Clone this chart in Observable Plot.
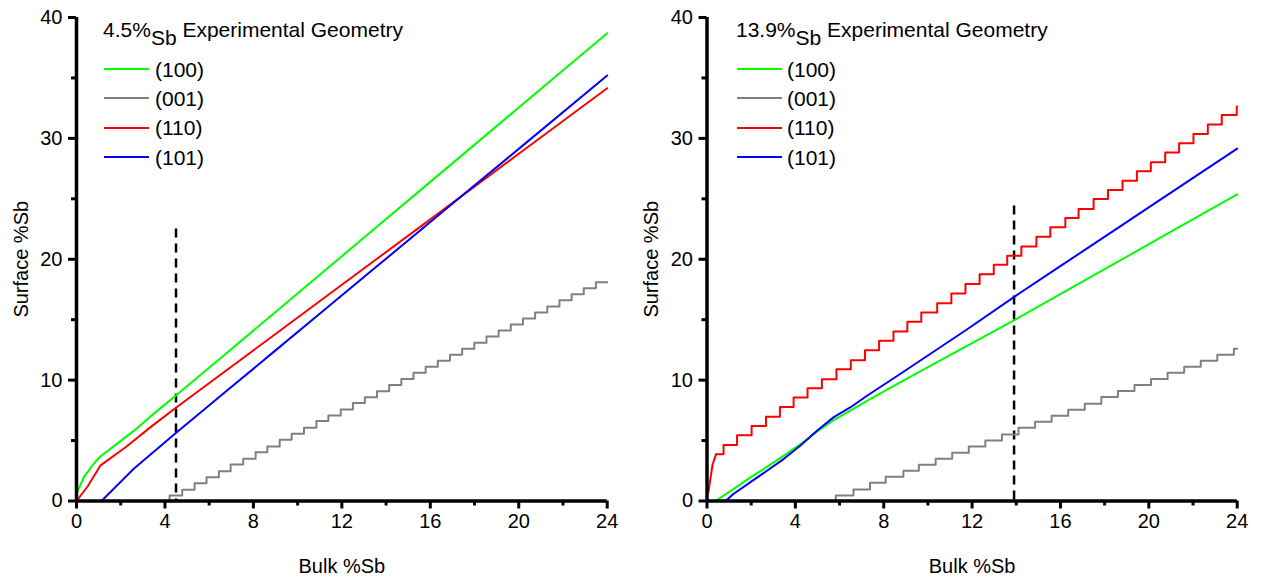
<!DOCTYPE html>
<html><head><meta charset="utf-8">
<script src="https://cdn.jsdelivr.net/npm/d3@7"></script>
<script src="https://cdn.jsdelivr.net/npm/@observablehq/plot@0.6"></script>
<style>
html,body{margin:0;padding:0;background:#fff;}
#wrap{position:relative;width:1261px;height:580px;overflow:hidden;font-family:'Liberation Sans',Arial,sans-serif;}
.panel{position:absolute;top:0;height:580px;}
.leg{position:absolute;font-size:21px;line-height:1;color:#000;white-space:nowrap;}
.leg sub{font-size:inherit;vertical-align:-8px;line-height:0;}
.sw{position:absolute;height:2px;}
</style></head><body><div id="wrap"></div>
<script>
// ---------- shared ----------
const seriesNames = ["(100)", "(001)", "(110)", "(101)"];
const seriesColors = ["#00ff00", "#808080", "#ff0000", "#0000ff"];
const xTicks = [0, 4, 8, 12, 16, 20, 24];
const xMinorTicks = [2, 6, 10, 14, 18, 22];
const yTicks = [0, 10, 20, 30, 40];
const yMinorTicks = [5, 15, 25, 35];
const xLabel = "Bulk %Sb";
const yLabel = "Surface %Sb";

// ---------- left panel: 4.5 %Sb ----------
const leftTitle = "4.5%";
const leftDashX = 4.5, leftDashTop = 22.5;
const L100x = [0, 0.33, 0.78, 1.09, 1.84, 2.59, 3.35, 4.48, 6.74, 9.0, 11.27, 13.53, 16, 20, 24];
const L100y = [0.6, 1.97, 3.08, 3.7, 4.75, 5.8, 7.0, 8.7, 12.17, 15.64, 19.13, 22.6, 26.4, 32.55, 38.7];
const L110x = [0, 0.5, 1.09, 2.22, 3.35, 4.48, 6.74, 9.0, 11.27, 13.53, 16, 20, 24];
const L110y = [0, 1.2, 2.95, 4.45, 6.11, 7.7, 10.76, 13.82, 16.9, 19.96, 23.3, 28.73, 34.15];
const L101x = [0, 1.13, 2.59, 4.48, 6.74, 9.0, 11.27, 13.53, 17.5, 20, 24];
const L101y = [0, 0, 2.67, 5.6, 9.03, 12.46, 15.9, 19.33, 25.35, 29.13, 35.2];
const L001stepX = [0, 4.21, 4.78, 5.34, 5.88, 6.44, 6.97, 7.54, 8.10, 8.63, 9.19, 9.73, 10.29, 10.85, 11.39, 11.95, 12.50, 13.04, 13.59, 14.14, 14.69, 15.24, 15.79, 16.34, 16.89, 17.44, 17.99, 18.54, 19.09, 19.64, 20.19, 20.74, 21.29, 21.84, 22.39, 22.94, 23.49, 24];
const L001stepY = [0, 0.46, 0.93, 1.47, 1.97, 2.46, 3.02, 3.49, 4.04, 4.51, 5.06, 5.56, 6.06, 6.61, 7.08, 7.57, 8.1, 8.59, 9.09, 9.6, 10.1, 10.6, 11.1, 11.6, 12.1, 12.6, 13.1, 13.6, 14.1, 14.6, 15.1, 15.6, 16.1, 16.6, 17.1, 17.6, 18.1, 18.1];

// ---------- right panel: 13.9 %Sb ----------
const rightTitle = "13.9%";
const rightDashX = 13.9, rightDashTop = 24.4;
const R100x = [0, 0.38, 1.21, 1.97, 2.73, 3.48, 4.23, 4.99, 5.74, 6.5, 7.26, 8.76, 11, 13.89, 16.01, 18.28, 20.54, 24];
const R100y = [0, 0, 1.0, 1.95, 2.85, 3.75, 4.7, 5.75, 6.7, 7.5, 8.3, 9.83, 12.06, 14.94, 17.13, 19.47, 21.8, 25.37];
const R101x = [0, 0.84, 1.21, 1.97, 2.73, 3.48, 4.23, 4.99, 5.74, 6.5, 7.26, 8.76, 11.78, 13.89, 16.01, 18.28, 20.54, 24];
const R101y = [0, 0, 0.6, 1.56, 2.52, 3.49, 4.59, 5.84, 6.94, 7.76, 8.73, 10.53, 14.21, 16.87, 19.45, 22.2, 24.95, 29.15];
const R110rampX = [0.06, 0.25, 0.41];
const R110rampY = [0.69, 3.0, 3.87];
const R110stepX = [0.41, 0.75, 1.36, 2.02, 2.67, 3.30, 3.92, 4.55, 5.20, 5.86, 6.51, 7.15, 7.79, 8.44, 9.07, 9.70, 10.42, 11.06, 11.70, 12.34, 12.98, 13.59, 14.23, 14.91, 15.54, 16.22, 16.82, 17.50, 18.15, 18.81, 19.46, 20.09, 20.74, 21.37, 22.02, 22.67, 23.30, 23.98, 24];
const R110stepY = [3.87, 4.64, 5.44, 6.21, 6.98, 7.78, 8.56, 9.33, 10.08, 10.9, 11.65, 12.48, 13.25, 14.02, 14.82, 15.6, 16.37, 17.17, 17.95, 18.75, 19.55, 20.29, 21.06, 21.86, 22.64, 23.42, 24.16, 24.98, 25.73, 26.5, 27.27, 28.02, 28.84, 29.59, 30.37, 31.14, 31.94, 32.63, 32.63];
const R001stepX = [0, 5.83, 6.63, 7.38, 8.09, 8.89, 9.59, 10.35, 11.1, 11.85, 12.6, 13.35, 14.1, 14.85, 15.6, 16.35, 17.1, 17.85, 18.6, 19.35, 20.1, 20.85, 21.6, 22.35, 23.1, 23.85, 24];
const R001stepY = [0, 0.45, 0.95, 1.5, 2.0, 2.5, 3.0, 3.5, 4.0, 4.5, 5.0, 5.5, 6.05, 6.55, 7.05, 7.55, 8.05, 8.6, 9.1, 9.6, 10.1, 10.6, 11.1, 11.6, 12.1, 12.6, 12.6];

const zip = (xs, ys, s) => xs.map((x, i) => ({x, y: ys[i], s}));

function makePlot(cfg) {
  const font = "'Liberation Sans', Arial, sans-serif";
  const color = {domain: seriesNames, range: seriesColors};
  const lineOpts = {x: "x", y: "y", stroke: "s", strokeWidth: 2};
  const marks = [
    Plot.axisY({ticks: yMinorTicks, tickSize: 5, strokeWidth: 3, tickFormat: () => "", label: null}),
    Plot.axisY({ticks: yTicks, tickSize: 8, strokeWidth: 3, tickPadding: 6, fontSize: 20,
      label: yLabel, labelAnchor: "center", labelArrow: "none", labelOffset: 63}),
    Plot.axisX({ticks: xMinorTicks, tickSize: 5, strokeWidth: 3, tickFormat: () => "", label: null}),
    Plot.axisX({ticks: xTicks, tickSize: 8, strokeWidth: 3, tickPadding: 5, fontSize: 20,
      label: xLabel, labelAnchor: "center", labelArrow: "none", labelOffset: 72}),
    Plot.ruleX([{x: cfg.dashX, top: cfg.dashTop}], {x: "x", y1: "top", y2: 0, stroke: "black", strokeWidth: 2.5, strokeDasharray: "9,6"})
  ];
  for (const ln of cfg.lines) {
    marks.push(Plot.line(ln.data, {...lineOpts, curve: ln.curve || "linear"}));
  }
  marks.push(Plot.ruleX([0], {stroke: "black", strokeWidth: 3.5}));
  marks.push(Plot.ruleY([0], {stroke: "black", strokeWidth: 3.5}));
  return Plot.plot({
    width: cfg.width, height: 580,
    marginLeft: cfg.ml, marginRight: cfg.mr, marginTop: 17, marginBottom: 79.5,
    x: {domain: [0, 24]},
    y: {domain: [0, 40]},
    color,
    style: {fontFamily: font, fontSize: "20px", color: "black", background: "white", overflow: "visible"},
    marks
  });
}

function makePanel(left, cfg, leg) {
  const p = document.createElement("div");
  p.className = "panel";
  p.style.left = left + "px";
  p.style.width = cfg.width + "px";
  p.appendChild(makePlot(cfg));
  const t = document.createElement("div");
  t.className = "leg";
  t.style.left = leg.tl + "px"; t.style.top = "19px";
  t.innerHTML = leg.title + "<sub>Sb</sub> Experimental Geometry";
  p.appendChild(t);
  seriesNames.forEach((name, i) => {
    const sw = document.createElement("div");
    sw.className = "sw";
    sw.style.left = leg.sl + "px"; sw.style.width = "45px";
    sw.style.top = (68 + i * 29.3) + "px";
    sw.style.background = seriesColors[i];
    p.appendChild(sw);
    const lb = document.createElement("div");
    lb.className = "leg";
    lb.style.left = leg.ll + "px";
    lb.style.top = (58.7 + i * 29.3) + "px";
    lb.textContent = name;
    p.appendChild(lb);
  });
  document.getElementById("wrap").appendChild(p);
}

makePanel(0, {
  width: 630, ml: 76, mr: 23.3, dashX: leftDashX, dashTop: leftDashTop,
  lines: [
    {data: zip(L001stepX, L001stepY, "(001)"), curve: "step-after"},
    {data: zip(L100x, L100y, "(100)")},
    {data: zip(L110x, L110y, "(110)")},
    {data: zip(L101x, L101y, "(101)")}
  ]
}, {title: leftTitle, tl: 103, sl: 104, ll: 155});

makePanel(630, {
  width: 631, ml: 76.5, mr: 24.3, dashX: rightDashX, dashTop: rightDashTop,
  lines: [
    {data: zip(R001stepX, R001stepY, "(001)"), curve: "step-after"},
    {data: zip(R100x, R100y, "(100)")},
    {data: zip(R110rampX, R110rampY, "(110)")},
    {data: zip(R110stepX, R110stepY, "(110)"), curve: "step-after"},
    {data: zip(R101x, R101y, "(101)")}
  ]
}, {title: rightTitle, tl: 106, sl: 107, ll: 157});
</script>
</body></html>
